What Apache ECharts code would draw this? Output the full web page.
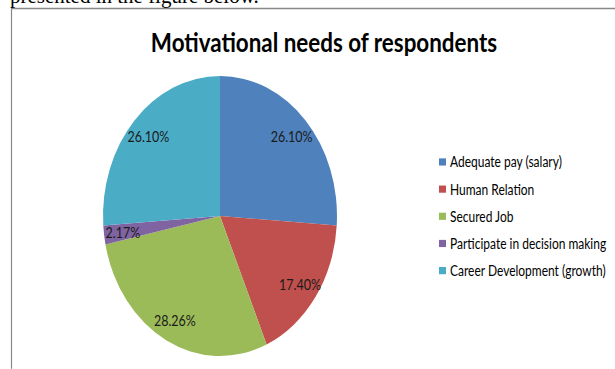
<!DOCTYPE html>
<html>
<head>
<meta charset="utf-8">
<script src="https://cdn.jsdelivr.net/npm/echarts@6/dist/echarts.min.js"></script>
<style>
  html, body { margin: 0; padding: 0; background: #fff; overflow: hidden; }
  #wrap { width: 615px; height: 369px; overflow: hidden; position: relative; }
  #main { width: 615px; height: 308.3px; transform: scaleY(1.197); transform-origin: 0 0; }
</style>
</head>
<body>
<div id="wrap"><div id="main"></div></div>
<script>
const categories = ['Adequate pay (salary)', 'Human Relation', 'Secured Job', 'Participate in decision making', 'Career Development (growth)'];
const values = [26.10, 17.40, 28.26, 2.17, 26.10];
const valueLabels = ['26.10%', '17.40%', '28.26%', '2.17%', '26.10%'];
const colors = ['#4F81BD', '#C0504D', '#9BBB59', '#8064A2', '#4BACC6'];
const titleText = 'Motivational needs of respondents';
const docText = 'presented in the figure below.';

const SY = 1.197;
const chart = echarts.init(document.getElementById('main'), null, { renderer: 'svg' });
const data = categories.map((c, i) => ({ name: c, value: values[i], itemStyle: { color: colors[i] } }));
const labelData = categories.map((c, i) => ({ name: c, value: values[i], label: { formatter: valueLabels[i] } }));

chart.setOption({
  animation: false,
  title: {
    text: titleText,
    left: 319, top: 18.5, textAlign: 'center',
    textStyle: { fontFamily: 'Lato', fontWeight: 'bold', fontSize: 22.4, color: '#000' }
  },
  legend: {
    orient: 'vertical', left: 434, top: 124.3,
    icon: 'rect', itemWidth: 7, itemHeight: 6, itemGap: 10.7,
    data: categories,
    textStyle: { fontFamily: 'Lato', fontSize: 12, lineHeight: 12, color: '#000', padding: [0, 0, 0, -1] },
    selectedMode: false
  },
  graphic: [
    { type: 'rect', silent: true, shape: { x: 11.5, y: 8.5 / SY, width: 700, height: 400 },
      style: { fill: 'none', stroke: '#888', lineWidth: 1.2 } },
    { type: 'text', silent: true, x: 10, y: 6 / SY, scaleY: 1 / SY,
      style: { text: docText, font: '21px "Liberation Serif"', fill: '#000', textVerticalAlign: 'bottom' } }
  ],
  series: [
    {
      type: 'pie', center: [220, 216 / SY], radius: [0, 117],
      startAngle: 90, clockwise: true,
      label: { show: false }, labelLine: { show: false },
      emphasis: { disabled: true },
      itemStyle: { borderWidth: 0 },
      data: data
    },
    {
      type: 'pie', center: [220, 216 / SY], radius: [73, 117],
      startAngle: 90, clockwise: true, silent: true,
      itemStyle: { color: 'rgba(0,0,0,0)', borderWidth: 0 },
      label: { show: true, position: 'inside', fontFamily: 'Lato', fontSize: 12.5, color: '#1a1a1a' },
      labelLine: { show: false },
      emphasis: { disabled: true },
      legendHoverLink: false,
      data: labelData
    }
  ]
});
</script>
</body>
</html>
